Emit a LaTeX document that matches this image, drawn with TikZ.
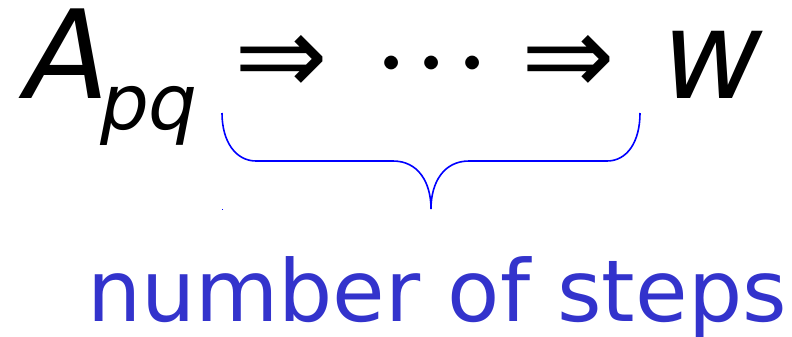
\documentclass[tikz,border=0pt]{standalone}
\usepackage{fontspec}
\setmainfont{DejaVu Sans}
\definecolor{labelblue}{RGB}{51,51,204}
\definecolor{bracecol}{RGB}{0,0,255}
\newcommand{\bigdot}{\scalebox{13}{$\cdot$}}
\begin{document}
\begin{tikzpicture}[x=1pt,y=-1pt,
  txt/.style={inner sep=0pt,outer sep=0pt,anchor=base west},
  arrowtxt/.style={font=\fontsize{112}{112}\selectfont},
  bigit/.style={font=\fontsize{123}{123}\selectfont\itshape},
  sub/.style={font=\fontsize{77}{77}\selectfont\itshape},
  bracestyle/.style={draw=bracecol,line width=1.6pt}]
\useasboundingbox (0,0) rectangle (792,337);
\node[txt,bigit] (A) at (25,98) {A};
\node[txt,sub] (pq) at (100,129) {pq};
\node[txt,arrowtxt] (ar1) at (234,94) {⇒};
\node[txt] (dots) at (373,95.5) {\smash{\bigdot\kern4.4pt\bigdot\kern4.4pt\bigdot}};
\node[txt,arrowtxt] (ar2) at (521,94) {⇒};
\node[txt,bigit] (w) at (662,98) {w};
\coordinate (bl) at (222,113);
\coordinate (br) at (640,113);
\coordinate (tip) at (431,209);
\draw[bracestyle] (bl) .. controls (222,142) and (236,161) .. (256,161) -- (393,161)
  .. controls (418,161) and (431,182) .. (tip)
  .. controls (431,182) and (444,161) .. (469,161) -- (607,161)
  .. controls (627,161) and (640,142) .. (br);
\fill[bracecol] (221.5,208.5) rectangle (223,210);
\node[txt,font=\fontsize{85.5}{85.5}\selectfont,text=labelblue] (lbl) at (87,321) {number of steps};
\end{tikzpicture}
\end{document}
